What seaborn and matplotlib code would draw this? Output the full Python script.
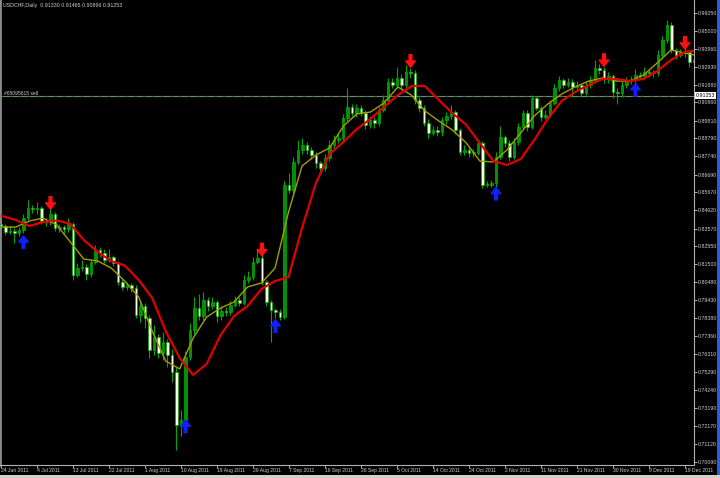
import numpy as np
import matplotlib
matplotlib.use("Agg")
import matplotlib.pyplot as plt
import matplotlib.transforms as mtransforms
from matplotlib.patches import Rectangle
import seaborn as sns

# -------------------------------
# Data (one bar per day, Sundays included)
# -------------------------------
opens = [
    .8385, .8372, .8337, .8343, .8332, .8349, .8418, .8476, .8470, .8476,
    .8401, .8395, .8441, .8360, .8366, .8354, .8383, .8089, .8129, .8135,
    .8094, .8164, .8233, .8216, .8175, .8193, .8158, .8048, .8019, .8031,
    .8013, .7857, .7909, .7840, .7655, .7730, .7638, .7701, .7626, .7528,
    .7222, .7250, .7615, .7771, .7898, .7852, .7944, .7909, .7932, .7852,
    .7880, .7875, .7915, .7944, .7927, .8060, .8077, .8164, .8187, .8048,
    .7932, .7886, .7875, .7846, .8609, .8580, .8742, .8811, .8840, .8811,
    .8782, .8736, .8707, .8765, .8840, .8869, .8880, .8996, .9060, .9025,
    .9054, .9025, .8956, .8984, .8967, .9042, .9100, .9204, .9187, .9227,
    .9187, .9262, .9256, .9100, .9054, .8967, .8909, .8927, .8915, .8984,
    .9008, .9031, .8927, .8799, .8811, .8794, .8794, .8852, .8609, .8609,
    .8620, .8771, .8886, .8852, .8771, .8857, .8944, .9025, .8944, .9112,
    .9054, .9002, .9013, .9083, .9169, .9216, .9187, .9204, .9175, .9187,
    .9141, .9187, .9216, .9285, .9273, .9227, .9239, .9146, .9141, .9187,
    .9216, .9216, .9245, .9239, .9262, .9256, .9256, .9360, .9447, .9534,
    .9389, .9360, .9372, .9377, .9320]
closes = [
    .8372, .8337, .8343, .8332, .8349, .8418, .8476, .8470, .8476, .8401,
    .8395, .8441, .8360, .8366, .8354, .8383, .8089, .8129, .8135, .8094,
    .8164, .8233, .8216, .8175, .8193, .8158, .8048, .8019, .8031, .8013,
    .7857, .7909, .7840, .7655, .7730, .7638, .7701, .7626, .7528, .7222,
    .7250, .7615, .7771, .7898, .7852, .7944, .7909, .7932, .7852, .7880,
    .7875, .7915, .7944, .7927, .8060, .8077, .8164, .8187, .8048, .7932,
    .7886, .7875, .7846, .8609, .8580, .8742, .8811, .8840, .8811, .8782,
    .8736, .8707, .8765, .8840, .8869, .8880, .8996, .9060, .9025, .9054,
    .9025, .8956, .8984, .8967, .9042, .9100, .9204, .9187, .9227, .9187,
    .9262, .9256, .9100, .9054, .8967, .8909, .8927, .8915, .8984, .9008,
    .9031, .8927, .8799, .8811, .8794, .8794, .8852, .8609, .8609, .8620,
    .8771, .8886, .8852, .8771, .8857, .8944, .9025, .8944, .9112, .9054,
    .9002, .9013, .9083, .9169, .9216, .9187, .9204, .9175, .9187, .9141,
    .9187, .9216, .9285, .9273, .9227, .9239, .9146, .9141, .9187, .9216,
    .9216, .9245, .9239, .9262, .9256, .9256, .9360, .9447, .9534, .9389,
    .9360, .9372, .9377, .9320, .9331]
highs = [
    .8410, .8385, .8370, .8360, .8365, .8440, .8520, .8495, .8510, .8490,
    .8420, .8490, .8455, .8385, .8380, .8420, .8395, .8160, .8175, .8150,
    .8180, .8265, .8250, .8240, .8240, .8205, .8170, .8065, .8050, .8045,
    .8030, .7935, .7925, .7855, .7800, .7745, .7760, .7720, .7660, .7560,
    .7310, .7650, .7810, .7960, .7980, .7990, .7960, .7960, .7945, .7910,
    .7905, .7940, .7965, .7960, .8090, .8110, .8195, .8240, .8215, .8060,
    .7945, .7900, .7890, .8630, .8680, .8770, .8870, .8880, .8860, .8830,
    .8800, .8750, .8790, .8870, .8900, .8910, .9020, .9170, .9080, .9075,
    .9070, .9040, .9010, .9000, .9060, .9130, .9230, .9230, .9290, .9250,
    .9300, .9285, .9275, .9120, .9070, .8990, .8950, .8950, .9000, .9030,
    .9070, .9045, .8940, .8840, .8830, .8815, .8870, .8865, .8630, .8640,
    .8800, .8950, .8900, .8870, .8880, .8970, .9045, .9040, .9130, .9125,
    .9065, .9040, .9100, .9190, .9240, .9230, .9225, .9220, .9210, .9200,
    .9210, .9240, .9330, .9310, .9290, .9260, .9250, .9170, .9210, .9235,
    .9240, .9280, .9265, .9290, .9280, .9275, .9390, .9470, .9560, .9550,
    .9400, .9395, .9400, .9390, .9345]
lows = [
    .8350, .8320, .8325, .8275, .8315, .8330, .8405, .8450, .8440, .8385,
    .8370, .8380, .8345, .8340, .8330, .8340, .8060, .8075, .8110, .8060,
    .8080, .8150, .8195, .8160, .8165, .8140, .8030, .8000, .8005, .7990,
    .7840, .7820, .7780, .7610, .7625, .7610, .7600, .7560, .7470, .7080,
    .7160, .7190, .7600, .7750, .7830, .7830, .7880, .7890, .7820, .7830,
    .7850, .7860, .7905, .7910, .7915, .8040, .8060, .8150, .8030, .7910,
    .7700, .7840, .7830, .7835, .8560, .8565, .8730, .8790, .8790, .8760,
    .8710, .8690, .8690, .8750, .8820, .8850, .8860, .8980, .9010, .9000,
    .9010, .8930, .8940, .8940, .8950, .9030, .9080, .9170, .9170, .9160,
    .9170, .9230, .9080, .9030, .8950, .8880, .8900, .8890, .8890, .8960,
    .8990, .8905, .8780, .8780, .8770, .8770, .8780, .8590, .8595, .8600,
    .8600, .8760, .8830, .8750, .8760, .8840, .8930, .8920, .8930, .9040,
    .8980, .8990, .9000, .9070, .9150, .9170, .9175, .9120, .9150, .9120,
    .9130, .9170, .9200, .9250, .9200, .9200, .9110, .9075, .9120, .9170,
    .9195, .9200, .9220, .9230, .9235, .9235, .9240, .9340, .9430, .9370,
    .9340, .9350, .9350, .9290, .9260]

# moving averages, sampled every few bars
ma_pos = [0.2, 3.3, 6.3, 9.3, 12.4, 15.4, 18.4, 21.5, 24.5, 27.5,
          30.6, 33.6, 36.6, 39.7, 42.7, 45.7, 48.8, 51.8, 54.8, 57.9,
          60.9, 63.9, 66.9, 70.0, 73.0, 76.1, 79.1, 82.1, 85.1, 88.2,
          91.2, 94.2, 97.3, 100.3, 103.4, 106.4, 109.4, 112.4, 115.5, 118.5,
          121.5, 124.6, 127.6, 130.6, 133.7, 136.7, 139.8, 142.8, 145.8, 148.9,
          151.9, 153.9]
ma_slow = [.8430, .8407, .8372, .8395, .8404, .8384, .8291, .8222, .8170, .8144,
           .8060, .7956, .7765, .7609, .7511, .7575, .7742, .7852, .7910, .8008,
           .8054, .8077, .8361, .8621, .8788, .8858, .8933, .8991, .9060, .9129,
           .9181, .9181, .9100, .9025, .8956, .8852, .8748, .8725, .8759, .8869,
           .8991, .9095, .9147, .9187, .9222, .9222, .9210, .9222, .9268, .9332,
           .9378, .9384]
ma_fast = [.8366, .8366, .8401, .8418, .8378, .8280, .8181, .8170, .8129, .8054,
           .7962, .7765, .7592, .7546, .7725, .7846, .7898, .7933, .8020, .8043,
           .8129, .8453, .8719, .8783, .8823, .8950, .9020, .9031, .9083, .9176,
           .9129, .9037, .8979, .8927, .8852, .8748, .8742, .8811, .8910, .9008,
           .9077, .9135, .9176, .9210, .9228, .9210, .9210, .9245, .9314, .9389,
           .9372, .9361]

# signal arrows (bar index, arrow tip price)
sell_bars = [11, 58, 91, 134, 152]
sell_tips = [.8470, .8200, .9290, .9295, .9395]
buy_bars = [5, 41, 61, 110, 141]
buy_tips = [.8315, .7250, .7830, .8595, .9195]

date_labels = ["24 Jun 2011", "4 Jul 2011", "13 Jul 2011", "22 Jul 2011", "1 Aug 2011",
               "10 Aug 2011", "19 Aug 2011", "29 Aug 2011", "7 Sep 2011", "16 Sep 2011",
               "26 Sep 2011", "5 Oct 2011", "14 Oct 2011", "24 Oct 2011", "2 Nov 2011",
               "11 Nov 2011", "21 Nov 2011", "30 Nov 2011", "9 Dec 2011", "19 Dec 2011"]
price_ticks = [0.96050, 0.95000, 0.93960, 0.92930, 0.91880, 0.90860, 0.89810, 0.88790,
               0.87740, 0.86690, 0.85670, 0.84620, 0.83570, 0.82550, 0.81500, 0.80480,
               0.79430, 0.78380, 0.77360, 0.76310, 0.75290, 0.74240, 0.73190, 0.72170,
               0.71120, 0.70090]
bid_price = 0.91253
title_text = "USDCHF,Daily  0.91330 0.91465 0.90896 0.91253"
order_text = "#65095615 sell"

assert len(opens) == len(closes) == len(highs) == len(lows)

# -------------------------------
# Style
# -------------------------------
sns.set_theme(style="dark", rc={"axes.facecolor": "black", "figure.facecolor": "black"})
plt.rcParams["font.family"] = ["Liberation Sans", "DejaVu Sans"]

fig = plt.figure(figsize=(7.2, 4.78), dpi=100)
ax = fig.add_axes([0, 13 / 478, 694 / 720, 465 / 478])
ax.set_facecolor("black")

bars = np.arange(len(closes))
o = np.array(opens)
c = np.array(closes)
body_lo = np.minimum(o, c)
body_hi = np.maximum(o, c)
h = np.maximum(np.array(highs), body_hi)
l = np.minimum(np.array(lows), body_lo)
bull = c >= o

# wicks + bodies
ax.vlines(bars, l, h, color="#00a800", linewidth=0.8, zorder=2)
ax.bar(bars, np.maximum(body_hi - body_lo, 0.0004), bottom=body_lo, width=0.66,
       color=np.where(bull, "#078f07", "#fbffe6"), edgecolor="#00b000",
       linewidth=0.5, zorder=3)

# moving averages
sns.lineplot(x=ma_pos, y=ma_fast, color="#a0a000", linewidth=1.0, ax=ax, zorder=4)
sns.lineplot(x=ma_pos, y=ma_slow, color="#e00000", linewidth=1.6, ax=ax, zorder=5)

# signal arrows
for b, p in zip(sell_bars, sell_tips):
    ax.annotate("", xy=(b, p), xytext=(0, 9), textcoords="offset points",
                arrowprops=dict(facecolor="#ff1010", edgecolor="#ff1010", width=2.0,
                                headwidth=7, headlength=4.5, shrink=0), zorder=6)
for b, p in zip(buy_bars, buy_tips):
    ax.annotate("", xy=(b, p), xytext=(0, -9), textcoords="offset points",
                arrowprops=dict(facecolor="#1020ff", edgecolor="#1020ff", width=2.0,
                                headwidth=7, headlength=4.5, shrink=0), zorder=6)

# order / bid line (gray line with green dashes on top)
ax.axhline(bid_price, color="#808080", linewidth=0.8, zorder=1)
ax.axhline(bid_price, color="#2a8a2a", linewidth=0.8, linestyle=(0, (3, 5)), zorder=1)
ax.text(0.006, bid_price, order_text, transform=mtransforms.blended_transform_factory(ax.transAxes, ax.transData),
        fontsize=3.6, color="#c8c8c8", va="bottom", ha="left")
ax.text(1.003, bid_price, f"{bid_price:.5f}",
        transform=mtransforms.blended_transform_factory(ax.transAxes, ax.transData),
        fontsize=3.8, color="black", va="center", ha="left", clip_on=False,
        bbox=dict(facecolor="white", edgecolor="none", pad=0.6))

ax.text(0.005, 0.993, title_text, transform=ax.transAxes, fontsize=3.8,
        color="#d0d0d0", va="top", ha="left")

# axes
ax.set_xlim(-0.22, 154.0)
ax.set_ylim(0.69907, 0.96784)
ax.set_xticks(np.arange(len(date_labels)) * 8)
ax.set_xticklabels(date_labels, ha="left")
ax.yaxis.tick_right()
ax.set_yticks(price_ticks)
ax.set_yticklabels([f"{v:.5f}" for v in price_ticks])
ax.tick_params(axis="x", direction="out", length=2, width=0.6, pad=0.5,
               labelsize=3.6, colors="#d0d0d0", bottom=True)
ax.tick_params(axis="y", direction="out", length=2, width=0.6, pad=0.8,
               labelsize=3.8, colors="#d0d0d0", right=True, left=False)
ax.set_xlabel("")
ax.set_ylabel("")
ax.grid(False)
for side in ["right", "bottom"]:
    ax.spines[side].set_visible(True)
    ax.spines[side].set_color("#b0b0b0")
    ax.spines[side].set_linewidth(0.8)
ax.spines["left"].set_visible(True)
ax.spines["left"].set_color("#8a8a8a")
ax.spines["left"].set_linewidth(2.0)
ax.spines["top"].set_visible(False)

# window frame bits
fig.patches.append(Rectangle((717 / 720, 0), 3 / 720, 1, transform=fig.transFigure,
                             facecolor="#2a5fd8", edgecolor="none", zorder=10))
fig.patches.append(Rectangle((0, 0), 1, 3 / 478, transform=fig.transFigure,
                             facecolor="#d4d0c8", edgecolor="none", zorder=10))

fig.savefig("out.png", dpi=100, facecolor="black")
